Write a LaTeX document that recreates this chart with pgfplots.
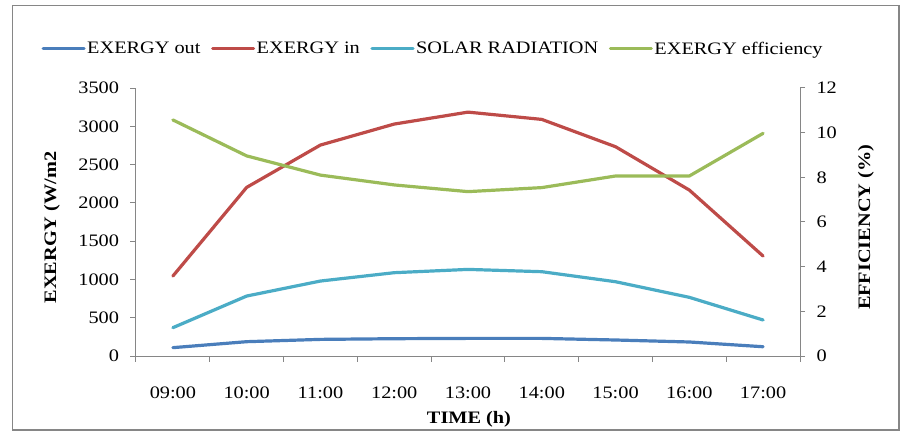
\documentclass[border=0pt]{standalone}
\usepackage{fontspec}
\setmainfont{Liberation Serif}[FakeStretch=1.16]
\usepackage{pgfplots}
\pgfplotsset{compat=1.18}
\definecolor{axgray}{RGB}{134,134,134}
\definecolor{cblue}{RGB}{74,126,187}
\definecolor{cred}{RGB}{190,75,72}
\definecolor{ccyan}{RGB}{75,172,198}
\definecolor{cgreen}{RGB}{155,187,89}
\newcommand\cf{\fontsize{17.5pt}{20pt}\selectfont}
\begin{document}
\begin{tikzpicture}
\useasboundingbox (-136pt,-75pt) rectangle (766pt,356pt);
\draw[axgray, line width=1.5pt] (-123.5pt,-74pt) rectangle (763pt,350.5pt);
\pgfplotsset{
  every axis/.append style={
    scale only axis, width=664pt, height=268pt,
    at={(0pt,0pt)}, anchor=south west,
    xmin=-0.5, xmax=8.5,
    axis line style={axgray, line width=1pt},
    tick style={axgray, line width=1pt},
    tick label style={font=\cf, black},
    label style={font=\cf\bfseries},
    /pgf/number format/assume math mode=true,
    /pgf/number format/1000 sep={},
    scaled y ticks=false,
  }
}
\begin{axis}[
  axis x line*=bottom, axis y line*=left,
  ymin=0, ymax=3500, ytick={0,500,...,3500},
  xtick={-0.5,0.5,1.5,2.5,3.5,4.5,5.5,6.5,7.5,8.5},
  x tick label as interval,
  xticklabels={09:00,10:00,11:00,12:00,13:00,14:00,15:00,16:00,17:00},
  tick align=outside, major tick length=5.5pt,
  xticklabel style={yshift=-22pt},
  yticklabel style={xshift=-8pt},
  xlabel={TIME (h)},
  xlabel style={at={(axis description cs:0.5015,-0.235)}, anchor=center},
  ylabel={EXERGY (W/m2},
  ylabel style={at={(axis description cs:-0.1265,0.48)}, anchor=center, rotate=0},
  legend style={at={(axis description cs:0.447,1.146)}, anchor=center, draw=none, fill=none,
    font=\cf, legend columns=4, /tikz/every even column/.append style={column sep=9pt},
    nodes={inner sep=1.5pt}},
  legend image code/.code={\draw[#1] (0pt,0pt) -- (41pt,0pt);},
  every axis plot/.append style={line width=3.2pt, line join=round, line cap=round},
]
\addplot[cblue] coordinates {(0,109) (1,187) (2,217) (3,226) (4,230) (5,230) (6,209) (7,183) (8,121)};
\addlegendentry{EXERGY out}
\addplot[cred] coordinates {(0,1044) (1,2202) (2,2755) (3,3029) (4,3185) (5,3090) (6,2733) (7,2167) (8,1305)};
\addlegendentry{EXERGY in}
\addplot[ccyan] coordinates {(0,370) (1,783) (2,979) (3,1088) (4,1131) (5,1101) (6,970) (7,766) (8,470)};
\addlegendentry{SOLAR RADIATION}
\addlegendimage{cgreen, line width=3.2pt}
\addlegendentry{EXERGY efficiency}
\end{axis}
\begin{axis}[
  axis x line=none, axis y line*=right,
  ymin=0, ymax=12, ytick={0,2,...,12},
  tick align=outside, major tick length=5pt,
  yticklabel style={xshift=8pt},
  ylabel={EFFICIENCY (\%)},
  ylabel style={at={(axis description cs:1.0994,0.48)}, anchor=center, rotate=0},
  every axis plot/.append style={line width=3.2pt, line join=round, line cap=round},
]
\addplot[cgreen] coordinates {(0,10.57) (1,8.96) (2,8.10) (3,7.66) (4,7.36) (5,7.54) (6,8.06) (7,8.06) (8,9.97)};
\end{axis}
\end{tikzpicture}
\end{document}
